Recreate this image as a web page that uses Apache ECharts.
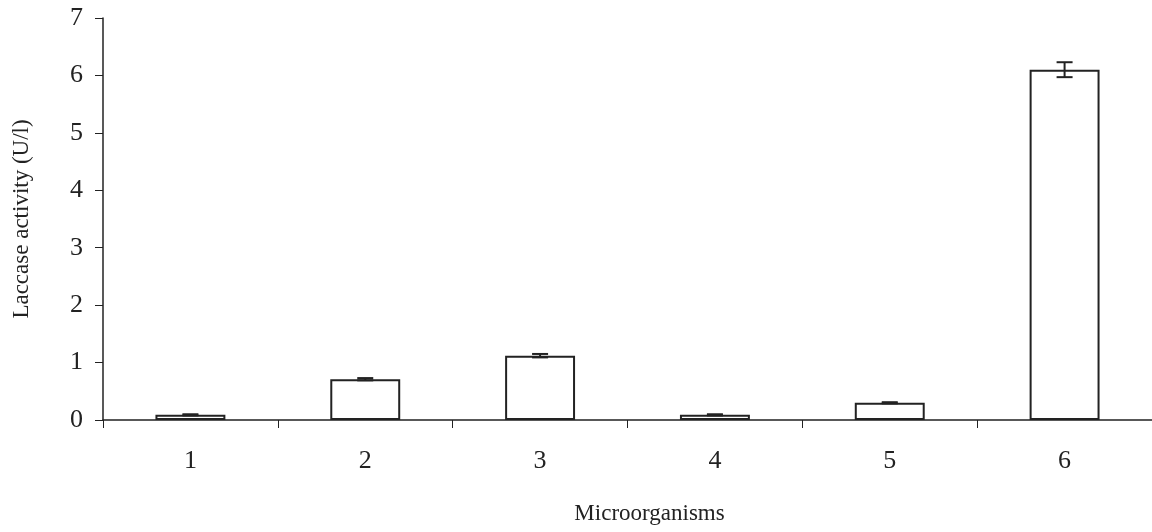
<!DOCTYPE html>
<html>
<head>
<meta charset="utf-8">
<script src="https://cdn.jsdelivr.net/npm/echarts@6/dist/echarts.min.js"></script>
<style>
  html, body { margin: 0; padding: 0; background: #fff; }
  #chart { width: 1152px; height: 532px; }
</style>
</head>
<body>
<div id="chart"></div>
<script>
/* ---------- 数据 ---------- */
const categories = ["1", "2", "3", "4", "5", "6"];
const activity   = [0.09, 0.71, 1.12, 0.09, 0.30, 6.10];
const errors     = [0.01, 0.02, 0.03, 0.01, 0.01, 0.13];
const yTicks     = [0, 1, 2, 3, 4, 5, 6, 7];

const font = "Liberation Serif, Times New Roman, serif";
const chart = echarts.init(document.getElementById("chart"));

chart.setOption({
    animation: false,
    grid: { left: 103, right: 0, top: 18, bottom: 112, outerBoundsMode: "none", containLabel: false },
    xAxis: {
        type: "category",
        data: categories,
        name: "Microorganisms",
        nameLocation: "middle",
        nameGap: 82,
        nameTextStyle: { fontFamily: font, fontSize: 23, color: "#222", padding: [0, 0, 0, 44] },
        axisLine: { lineStyle: { color: "#222", width: 1.5 } },
        axisTick: { show: true, length: 8, lineStyle: { color: "#222", width: 1 } },
        axisLabel: { fontFamily: font, fontSize: 26, color: "#222", margin: 28 },
    },
    yAxis: {
        type: "value",
        min: yTicks[0],
        max: yTicks[yTicks.length - 1],
        interval: 1,
        name: "Laccase activity (U/l)",
        nameLocation: "middle",
        nameGap: 70,
        nameRotate: 90,
        nameTextStyle: { fontFamily: font, fontSize: 23, color: "#222" },
        splitLine: { show: false },
        axisLine: { show: true, lineStyle: { color: "#222", width: 1.5 } },
        axisTick: { show: true, length: 8, lineStyle: { color: "#222", width: 1 } },
        axisLabel: { fontFamily: font, fontSize: 26, color: "#222", margin: 20 },
    },
    series: [
        {
            type: "bar",
            data: activity,
            barWidth: "40%",
            itemStyle: { color: "#fff", borderColor: "#222", borderWidth: 2 },
        },
        {
            type: "custom",
            z: 10,
            data: activity.map((v, i) => [i, v - errors[i], v + errors[i]]),
            renderItem: (params, api) => {
                const lo = api.coord([api.value(0), api.value(1)]);
                const hi = api.coord([api.value(0), api.value(2)]);
                const hw = 8;
                const style = { stroke: "#222", lineWidth: 2 };
                return {
                    type: "group",
                    children: [
                        { type: "line", shape: { x1: lo[0], y1: lo[1], x2: hi[0], y2: hi[1] }, style },
                        { type: "line", shape: { x1: lo[0] - hw, y1: lo[1], x2: lo[0] + hw, y2: lo[1] }, style },
                        { type: "line", shape: { x1: hi[0] - hw, y1: hi[1], x2: hi[0] + hw, y2: hi[1] }, style },
                    ],
                };
            },
        },
    ],
});
</script>
</body>
</html>
